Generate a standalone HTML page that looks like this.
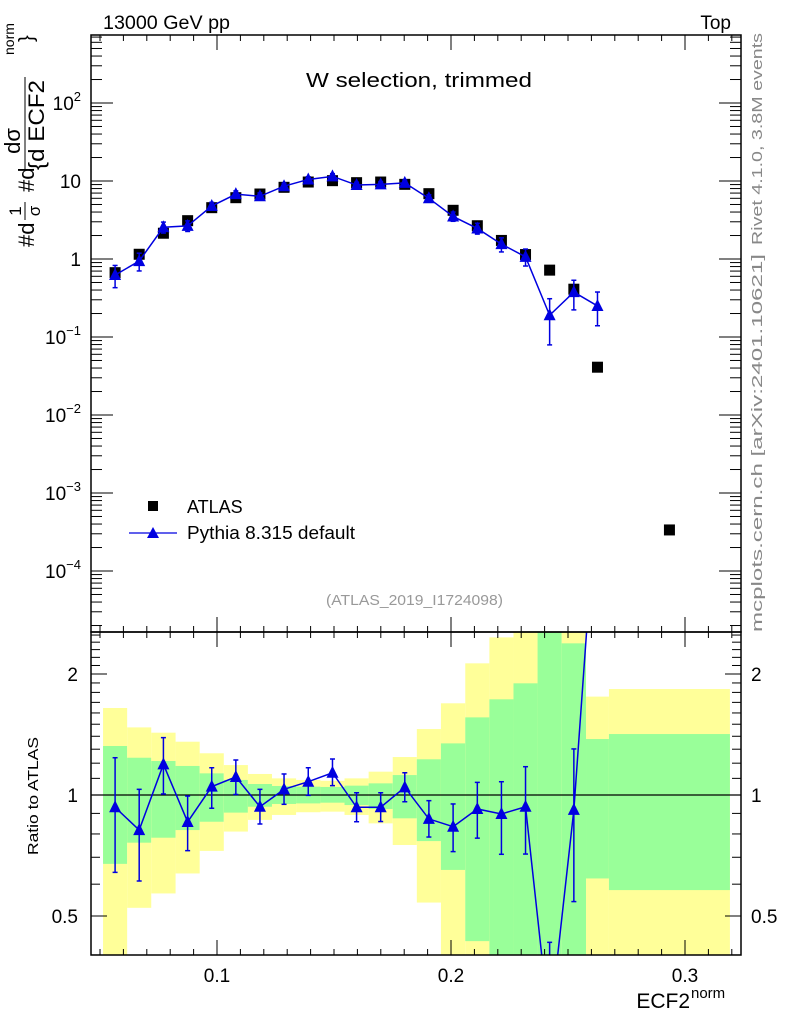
<!DOCTYPE html>
<html><head><meta charset="utf-8"><style>
html,body{margin:0;padding:0;background:#fff;width:786px;height:1024px;overflow:hidden}
svg{display:block;font-family:"Liberation Sans",sans-serif}
</style></head><body>
<svg id="c" width="786" height="1024" viewBox="0 0 786 1024" xmlns="http://www.w3.org/2000/svg">
<defs>
<clipPath id="clipMain"><rect x="91" y="35" width="650" height="597"/></clipPath>
<clipPath id="clipRatio"><rect x="91" y="632" width="650" height="323"/></clipPath>
</defs>
<g id="bands" clip-path="url(#clipRatio)"></g>
<g id="ratioG" clip-path="url(#clipRatio)"></g>
<g id="mainG" clip-path="url(#clipMain)"></g>
<g id="axes"></g>
<text x="103" y="29" font-size="19" textLength="127" lengthAdjust="spacingAndGlyphs">13000 GeV pp</text>
<text x="731" y="29" font-size="19" text-anchor="end">Top</text>
<text x="306" y="87" font-size="20" textLength="226" lengthAdjust="spacingAndGlyphs">W selection, trimmed</text>
<text x="326" y="605" font-size="15" fill="#999" textLength="177" lengthAdjust="spacingAndGlyphs">(ATLAS_2019_I1724098)</text>
<text transform="translate(762,245) rotate(-90)" font-size="15" fill="#888" textLength="212" lengthAdjust="spacingAndGlyphs">Rivet 4.1.0,  3.8M events</text>
<text transform="translate(762,632) rotate(-90)" font-size="15" fill="#888" textLength="378" lengthAdjust="spacingAndGlyphs">mcplots.cern.ch [arXiv:2401.10621]</text>
<text transform="translate(38,855) rotate(-90)" font-size="15" textLength="118" lengthAdjust="spacingAndGlyphs">Ratio to ATLAS</text>
<g font-size="22">
<text transform="translate(34,247) rotate(-90)">#d</text>
<text transform="translate(21,211) rotate(-90)" font-size="17" text-anchor="middle">1</text>
<line x1="25" y1="202" x2="25" y2="220" stroke="#000" stroke-width="1"/>
<text transform="translate(40,211) rotate(-90)" font-size="17" text-anchor="middle">σ</text>
<text transform="translate(34,192) rotate(-90)">#d</text>
<text transform="translate(20,141) rotate(-90)" text-anchor="middle">dσ</text>
<line x1="25" y1="77" x2="25" y2="170" stroke="#000" stroke-width="1"/>
<text transform="translate(44,170) rotate(-90)" textLength="90" lengthAdjust="spacingAndGlyphs">{d ECF2</text>
<text transform="translate(14,55) rotate(-90)" font-size="14">norm</text>
<text transform="translate(33,42) rotate(-90)" font-size="20">}</text>
</g>
<g>
<rect x="148" y="501" width="10" height="10" fill="#000"/>
<text x="187" y="513" font-size="18">ATLAS</text>
<line x1="129" y1="533" x2="177" y2="533" stroke="#0000e0" stroke-width="1.3"/>
<polygon points="147,538 159,538 153,527" fill="#0000e0"/>
<text x="187" y="539" font-size="18" textLength="168" lengthAdjust="spacingAndGlyphs">Pythia 8.315 default</text>
</g>
<text x="690" y="1008" font-size="21" text-anchor="end">ECF2</text>
<text x="691" y="998" font-size="15">norm</text>
</svg>
<script>
// ---- data ----
const binEdges = [0.0513,0.0616,0.0719,0.0823,0.0926,0.1029,0.1132,0.1235,0.1338,0.1442,0.1545,0.1648,0.1751,0.1854,0.1957,0.2061,0.2164,0.2267,0.2370,0.2473,0.2577,0.2675,0.3192];
const atlasValues = [0.668,1.15,2.14,3.10,4.55,6.11,6.81,8.30,9.70,10.1,9.52,9.70,9.06,6.88,4.21,2.67,1.73,1.14,0.72,0.41,0.041,0.000336];
const ratioValues = [0.932,0.818,1.192,0.857,1.049,1.109,0.935,1.033,1.079,1.136,0.932,0.932,1.045,0.872,0.834,0.923,0.897,0.935,0.264,0.918,6.1];
const ratioErrUp = [1.238,1.033,1.389,0.994,1.169,1.222,1.033,1.128,1.169,1.229,1.013,1.013,1.136,0.968,0.950,1.075,1.079,1.176,0.43,1.302,9.2];
const ratioErrDown = [0.642,0.611,1.006,0.727,0.927,1.003,0.847,0.948,0.998,1.055,0.858,0.859,0.962,0.786,0.723,0.781,0.712,0.713,0.11,0.543,3.4];
const totalBandUp = [1.646,1.473,1.429,1.357,1.270,1.187,1.128,1.100,1.090,1.085,1.100,1.143,1.243,1.459,1.691,2.126,2.467,3,3,3,1.757,1.835];
const statBandUp = [1.324,1.238,1.215,1.181,1.132,1.090,1.065,1.053,1.049,1.047,1.055,1.069,1.121,1.227,1.344,1.560,1.730,1.896,3,2.384,1.378,1.418];
const statBandDown = [0.674,0.761,0.783,0.818,0.858,0.904,0.935,0.950,0.953,0.957,0.944,0.923,0.875,0.768,0.651,0.433,0.3,0.3,0.3,0.3,0.620,0.580];
const totalBandDown = [0.3,0.524,0.569,0.638,0.726,0.811,0.867,0.892,0.906,0.909,0.892,0.850,0.751,0.540,0.3,0.3,0.3,0.3,0.3,0.3,0.3,0.3];
const xTicks = [0.1,0.2,0.3];
const xTickLabels = ["0.1","0.2","0.3"];
const mainYTicks = [-4,-3,-2,-1,0,1,2];
const ratioTicks = [0.5,1,2];
const ratioTickLabels = ["0.5","1","2"];

// ---- scales ----
const X0=91,X1=741,MT=35,MB=632,RB=955;
function xs(v){return 217+(v-0.1)*2340;}
function ym(v){return 259-78*Math.log10(v);}
function yr(v){return 795-121*Math.log2(v);}
const NS="http://www.w3.org/2000/svg";
function mk(tag,attrs,parent){const e=document.createElementNS(NS,tag);for(const k in attrs)e.setAttribute(k,attrs[k]);parent.appendChild(e);return e;}
const bands=document.getElementById('bands'),rg=document.getElementById('ratioG'),mg=document.getElementById('mainG'),ax=document.getElementById('axes');
const centers=[];for(let i=0;i<binEdges.length-1;i++)centers.push((binEdges[i]+binEdges[i+1])/2);

for(let i=0;i<totalBandUp.length;i++){
  const xa=xs(binEdges[i]),xb=xs(binEdges[i+1]);
  const y1=mk('rect',{x:xa,y:yr(totalBandUp[i]),width:xb-xa,height:yr(totalBandDown[i])-yr(totalBandUp[i]),fill:'#ffff99'},bands);
  
  
  const g1=mk('rect',{x:xa,y:yr(statBandUp[i]),width:xb-xa,height:yr(statBandDown[i])-yr(statBandUp[i]),fill:'#99ff99'},bands);
  
  
}
const one=mk('line',{x1:X0,x2:X1,y1:yr(1),y2:yr(1),stroke:'#000','stroke-width':1.3},rg);



function tri(g,cx,cy){return mk('polygon',{points:`${cx-6},${cy+5} ${cx+6},${cy+5} ${cx},${cy-7}`,fill:'#0000e0'},g);}
function errbar(g,cx,yt,yb){
  mk('line',{x1:cx,x2:cx,y1:yt,y2:yb,stroke:'#0000e0','stroke-width':1.5},g);
  mk('line',{x1:cx-2.5,x2:cx+2.5,y1:yt,y2:yt,stroke:'#0000e0','stroke-width':1.5},g);
  mk('line',{x1:cx-2.5,x2:cx+2.5,y1:yb,y2:yb,stroke:'#0000e0','stroke-width':1.5},g);
}
let pts=ratioValues.map((v,i)=>xs(centers[i])+','+yr(v)).join(' ');
const rl=mk('polyline',{points:pts,fill:'none',stroke:'#0000e0','stroke-width':1.5},rg);


ratioValues.forEach((v,i)=>{
  const cx=xs(centers[i]);
  errbar(rg,cx,yr(ratioErrUp[i]),yr(ratioErrDown[i]));
  const t=tri(rg,cx,yr(v));
  
  
});
const pyth=ratioValues.map((r,i)=>r*atlasValues[i]);
atlasValues.forEach((v,i)=>{
  const r=mk('rect',{x:xs(centers[i])-5.5,y:ym(v)-5.5,width:11,height:11,fill:'#000'},mg);
  
  
});
pts=pyth.map((v,i)=>xs(centers[i])+','+ym(v)).join(' ');
const pl=mk('polyline',{points:pts,fill:'none',stroke:'#0000e0','stroke-width':1.5},mg);


pyth.forEach((v,i)=>{
  const cx=xs(centers[i]);
  errbar(mg,cx,ym(ratioErrUp[i]*atlasValues[i]),ym(ratioErrDown[i]*atlasValues[i]));
  const t=tri(mg,cx,ym(v));
  
  
});

function ln(x1,y1,x2,y2,w){return mk('line',{x1,y1,x2,y2,stroke:'#000','stroke-width':w||1},ax);}
const f1=mk('rect',{x:X0,y:MT,width:X1-X0,height:MB-MT,fill:'none',stroke:'#000','stroke-width':1.5},ax);


const f2=mk('rect',{x:X0,y:MB,width:X1-X0,height:RB-MB,fill:'none',stroke:'#000','stroke-width':1.5},ax);


for(let k=5;k<=32;k++){
  const v=k/100,x=xs(v);if(x<X0||x>X1)continue;
  const major=(k%10===0),L=major?15:6;
  [MT,MB].forEach(y=>ln(x,y,x,y+L));
  [MB,RB].forEach(y=>ln(x,y,x,y-L));
}
xTicks.forEach((v,i)=>{
  const t=mk('text',{x:xs(v),y:982,'font-size':19,'text-anchor':'middle'},ax);t.textContent=xTickLabels[i];
  
  
});
for(let d=-5;d<=2;d++){
  for(let m=1;m<=9;m++){
    const v=m*Math.pow(10,d),y=ym(v);if(y<MT||y>MB)continue;
    const L=m===1?22:11;ln(X0,y,X0+L,y);ln(X1,y,X1-L,y);
  }
}
mainYTicks.forEach(e=>{
  const y=ym(Math.pow(10,e));
  const t=mk('text',{x:81,y:y+7,'font-size':19,'text-anchor':'end'},ax);
  
  
  if(e===0)t.textContent='1';else if(e===1)t.textContent='10';
  else{t.textContent='10';const s=mk('tspan',{dy:-9,'font-size':13},t);s.textContent=e<0?'\u2212'+(-e):String(e);}
});
for(let k=4;k<=25;k++){
  const v=k/10,y=yr(v);if(y<MB||y>RB)continue;
  const major=(k===5||k===10||k===20),L=major?16:9;ln(X0,y,X0+L,y);ln(X1,y,X1-L,y);
}
ratioTicks.forEach((v,i)=>{
  [[78,'end'],[751,'start']].forEach(([x,a])=>{
    const t=mk('text',{x:x,y:yr(v)+7,'font-size':19,'text-anchor':a},ax);t.textContent=ratioTickLabels[i];
    
    
  });
});
</script>
</body></html>
